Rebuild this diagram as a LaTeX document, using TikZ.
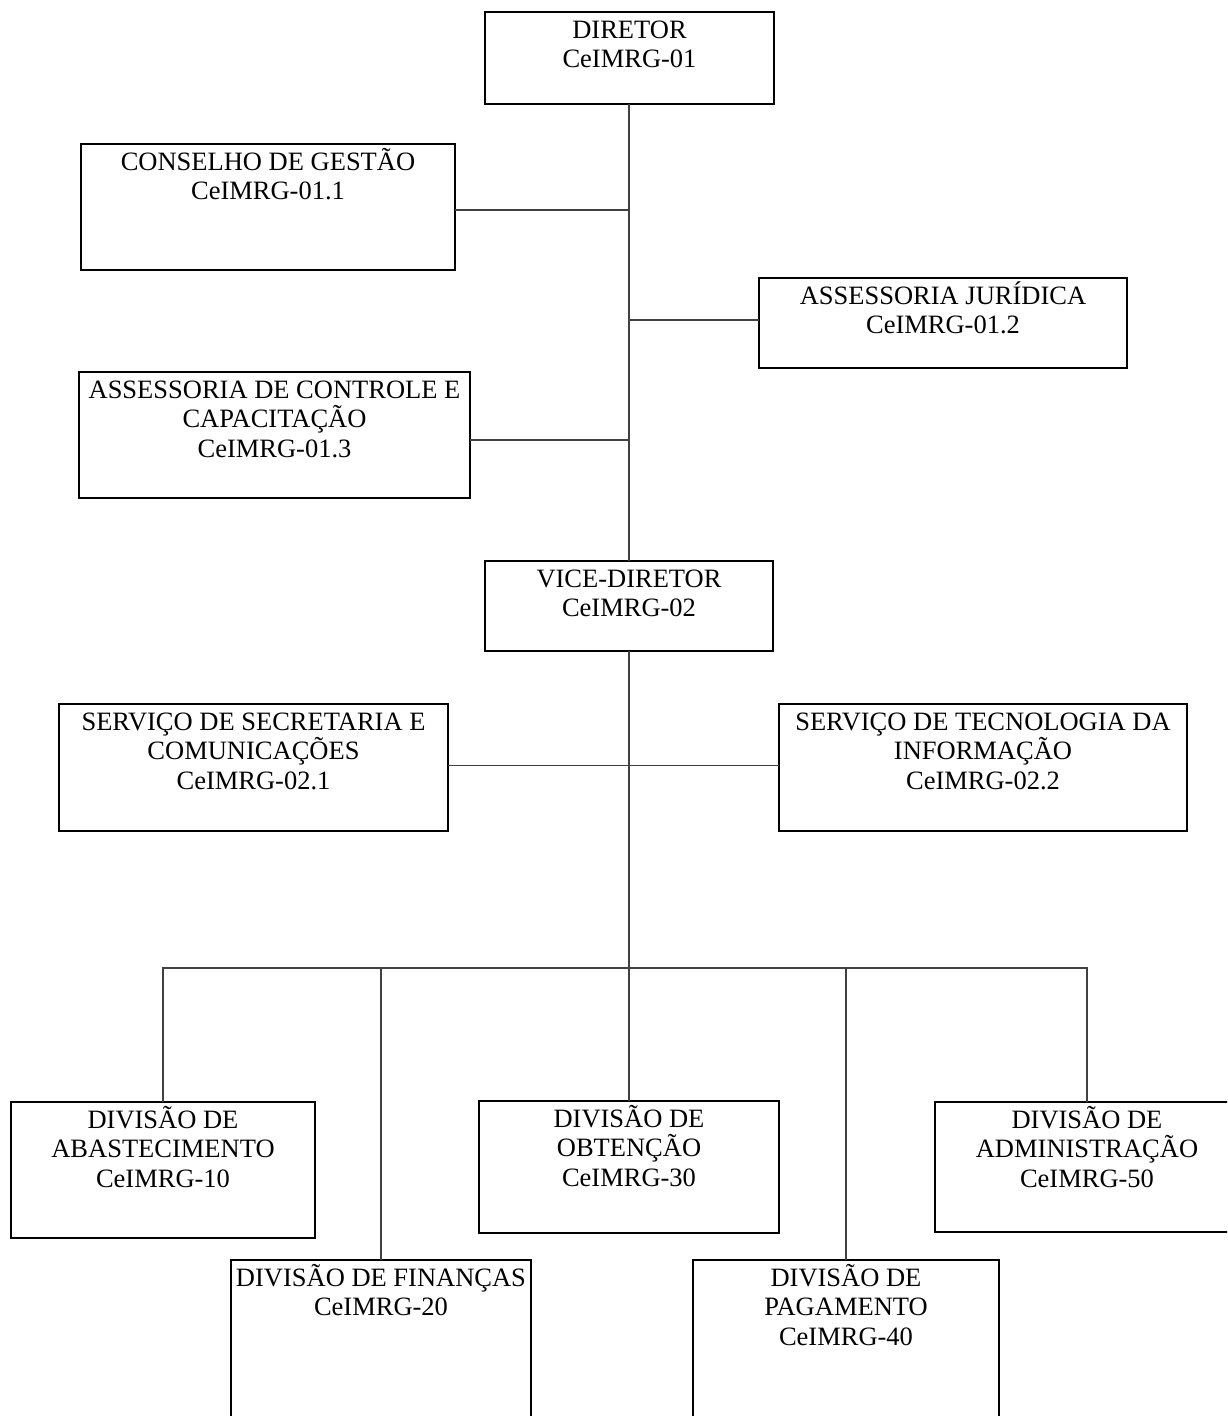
\documentclass[tikz,border=0pt]{standalone}
\usepackage{fontspec}
\setmainfont{Liberation Serif}
\begin{document}
\begin{tikzpicture}[x=1pt,y=-1pt,
  unit/.style={draw=black, line width=1.1pt, rectangle, inner sep=0pt, outer sep=0pt, anchor=north west},
  txt/.style={anchor=north, align=center, inner sep=0pt, yshift=-1pt,
    font=\fontsize{26.5}{29.5}\selectfont},
  link/.style={draw=black!75, line width=1.1pt}]
\path[use as bounding box, fill=white] (0,0) rectangle (1227,1416);
\clip (0,0) rectangle (1227,1416);
\newcommand{\fst}{\rule{0pt}{25pt}}
% boxes
\node[unit, minimum width=289, minimum height=92] (dir) at (485,12) {};
\node[txt] (dirT) at (dir.north) {\fst DIRETOR\\CeIMRG-01};
\node[unit, minimum width=374, minimum height=126] (cons) at (81,144) {};
\node[txt] (consT) at (cons.north) {\fst CONSELHO DE GESTÃO\\CeIMRG-01.1};
\node[unit, minimum width=368, minimum height=90] (jur) at (759,278) {};
\node[txt] (jurT) at (jur.north) {\fst ASSESSORIA JURÍDICA\\CeIMRG-01.2};
\node[unit, minimum width=391, minimum height=126] (ctrl) at (79,372) {};
\node[txt] (ctrlT) at (ctrl.north) {\fst ASSESSORIA DE CONTROLE E\\CAPACITAÇÃO\\CeIMRG-01.3};
\node[unit, minimum width=288, minimum height=90] (vice) at (485,561) {};
\node[txt] (viceT) at (vice.north) {\fst VICE-DIRETOR\\CeIMRG-02};
\node[unit, minimum width=389, minimum height=127] (sec) at (59,704) {};
\node[txt] (secT) at (sec.north) {\fst SERVIÇO DE SECRETARIA E\\COMUNICAÇÕES\\CeIMRG-02.1};
\node[unit, minimum width=408, minimum height=127] (ti) at (779,704) {};
\node[txt] (tiT) at (ti.north) {\fst SERVIÇO DE TECNOLOGIA DA\\INFORMAÇÃO\\CeIMRG-02.2};
\node[unit, minimum width=304, minimum height=136] (abas) at (11,1102) {};
\node[txt] (abasT) at (abas.north) {\fst DIVISÃO DE\\ABASTECIMENTO\\CeIMRG-10};
\node[unit, minimum width=300, minimum height=132] (obt) at (479,1101) {};
\node[txt] (obtT) at (obt.north) {\fst DIVISÃO DE\\OBTENÇÃO\\CeIMRG-30};
\node[unit, minimum width=304, minimum height=130] (adm) at (935,1102) {};
\node[txt] (admT) at (adm.north) {\fst DIVISÃO DE\\ADMINISTRAÇÃO\\CeIMRG-50};
\node[unit, minimum width=300, minimum height=200] (fin) at (231,1260) {};
\node[txt] (finT) at (fin.north) {\fst DIVISÃO DE FINANÇAS\\CeIMRG-20};
\node[unit, minimum width=306, minimum height=200] (pag) at (693,1260) {};
\node[txt] (pagT) at (pag.north) {\fst DIVISÃO DE\\PAGAMENTO\\CeIMRG-40};
% connectors
\coordinate (bus) at (629,968);
\draw[link] (vice.north |- dir.south) -- (vice.north);
\draw[link] (vice.south) -- (bus);
\draw[link] ([yshift=-3pt]cons.east) -- ([yshift=-3pt]cons.east -| vice.north);
\draw[link] ([yshift=3pt]jur.west) -- ([yshift=3pt]jur.west -| vice.north);
\draw[link] ([yshift=-5pt]ctrl.east) -- ([yshift=-5pt]ctrl.east -| vice.north);
\draw[link] ([yshift=2pt]sec.east) -- ([yshift=2pt]ti.west);
\draw[link] (abas.north) |- (bus) -| (adm.north);
\draw[link] (fin.north) -- (fin.north |- bus);
\draw[link] (obt.north) -- (bus);
\draw[link] (pag.north) -- (pag.north |- bus);
\end{tikzpicture}
\end{document}
